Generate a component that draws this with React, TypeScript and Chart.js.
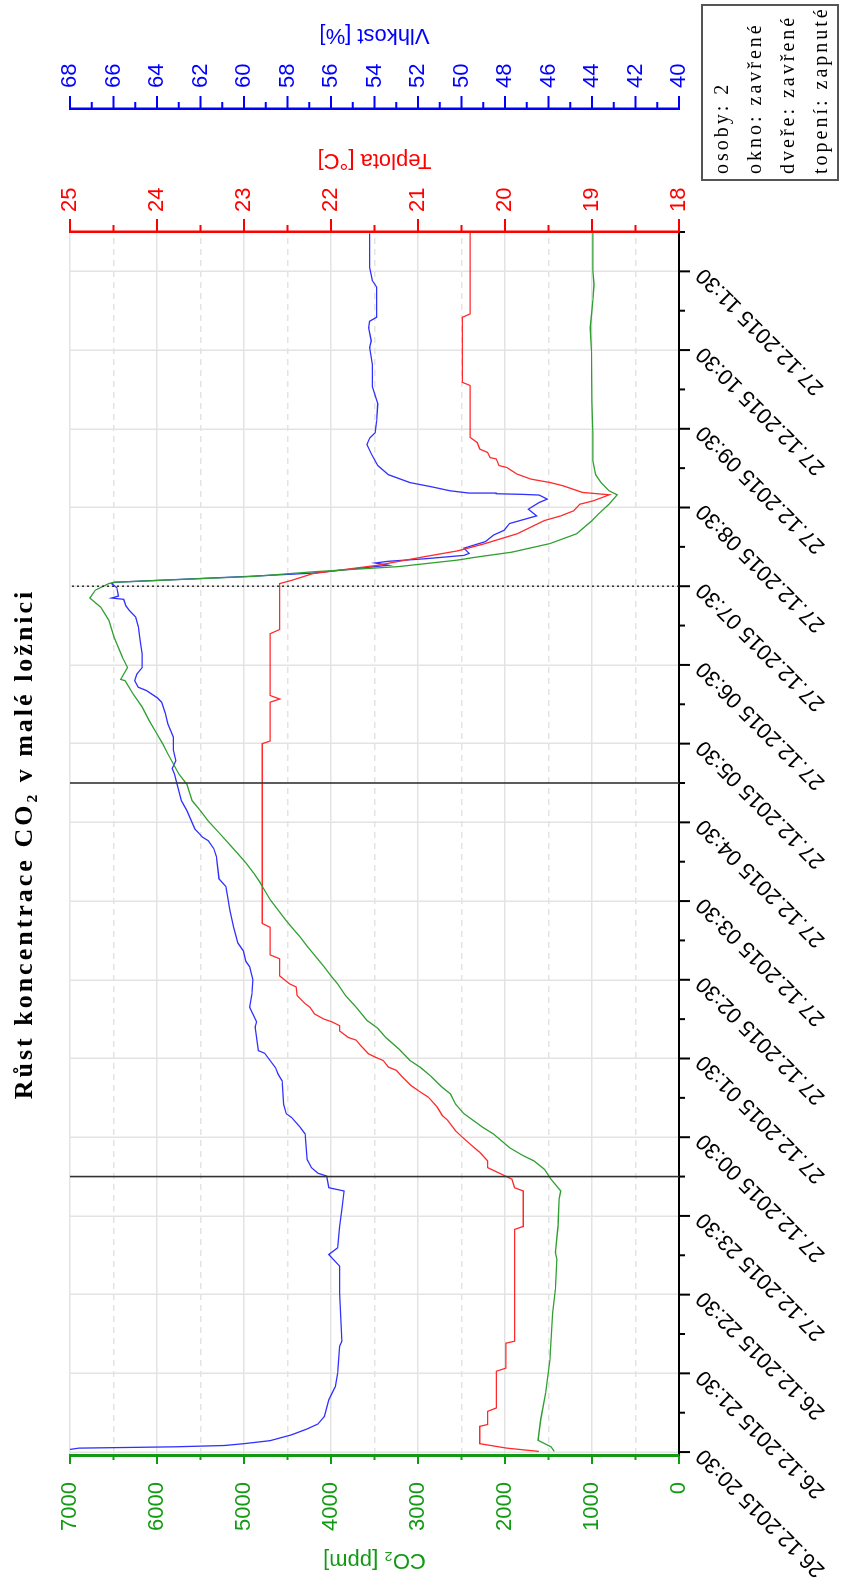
import React, { useEffect, useRef } from 'react';
import { Chart, registerables } from 'chart.js';

Chart.register(...registerables);

// ---------------- data ----------------
const chartTitle = 'Růst koncentrace CO₂ v malé ložnici';

const timeTickLabels = [
  '26.12.2015 20:30', '26.12.2015 21:30', '26.12.2015 22:30', '27.12.2015 23:30',
  '27.12.2015 00:30', '27.12.2015 01:30', '27.12.2015 02:30', '27.12.2015 03:30',
  '27.12.2015 04:30', '27.12.2015 05:30', '27.12.2015 06:30', '27.12.2015 07:30',
  '27.12.2015 08:30', '27.12.2015 09:30', '27.12.2015 10:30', '27.12.2015 11:30',
];

const legendLines = ['osoby: 2', 'okno: zavřené', 'dveře: zavřené', 'topení: zapnuté'];

const co2AxisTitle = 'CO₂ [ppm]';
const tempAxisTitle = 'Teplota [°C]';
const humAxisTitle = 'Vlhkost [%]';

const co2Times = [
  '20:30.5', '20:34', '20:39', '20:55', '21:15', '21:40', '22:16', '22:34', '22:57', '23:02',
  '23:22', '23:43', '23:49', '23:58', '00:05.5', '00:12', '00:16', '00:22', '00:32.5', '00:37.6',
  '00:48', '00:55', '01:03', '01:08', '01:16', '01:23', '01:28.5', '01:37', '01:46', '01:53',
  '01:59', '02:09', '02:18', '02:27', '02:32', '02:40', '02:50', '02:55', '03:03', '03:10',
  '03:15', '03:23', '03:31', '03:38', '03:45', '03:51', '03:59', '04:06', '04:13', '04:22',
  '04:31', '04:39', '04:46.5', '04:59', '05:07', '05:22', '05:30', '05:37', '05:47.6', '05:58',
  '06:08', '06:18', '06:19', '06:28', '06:36', '06:51', '07:04', '07:14', '07:21', '07:27',
  '07:32', '07:33', '07:37.5', '07:41', '07:45', '07:50', '07:52', '07:56', '08:02.5', '08:10',
  '08:20', '08:25', '08:32.5', '08:39.7', '08:42.7', '08:49', '08:55', '09:05.6', '09:26', '09:51',
  '10:30', '10:47', '11:08', '11:20', '11:30.7', '11:59.4',
];
const co2Values = [
  1434, 1471, 1620, 1589, 1533, 1484, 1453, 1422, 1403, 1422,
  1391, 1379, 1360, 1471, 1546, 1669, 1793, 1948, 2133, 2257,
  2473, 2566, 2628, 2721, 2844, 2968, 3092, 3215, 3370, 3462,
  3586, 3710, 3833, 3926, 3988, 4081, 4204, 4266, 4359, 4452,
  4514, 4606, 4699, 4761, 4823, 4885, 4977, 5070, 5163, 5286,
  5410, 5503, 5596, 5657, 5750, 5874, 5936, 5997, 6090, 6171,
  6276, 6368, 6418, 6338, 6399, 6492, 6554, 6647, 6771, 6709,
  6554, 6492, 4885, 4204, 3215, 2535, 2350, 1917, 1484, 1175,
  1000, 927, 804, 711, 804, 897, 958, 989, 989, 1002,
  1008, 1020, 989, 977, 989, 989,
];

const tempTimes = [
  '20:30.5', '20:33', '20:36.4', '20:49.6', '20:51', '21:01', '21:03.6', '21:31.6', '21:34', '21:53',
  '21:54.5', '23:19.7', '23:22', '23:49', '23:51.5', '23:58', '00:06.8', '00:12', '00:18.5', '00:23.6',
  '00:30', '00:35', '00:43', '00:46.5', '00:53', '01:00.5', '01:05.6', '01:09.4', '01:16', '01:21',
  '01:23.4', '01:28.5', '01:31', '01:33.6', '01:40', '01:44', '01:46', '01:51', '01:55', '01:58',
  '02:00', '02:04', '02:09', '02:12', '02:18', '02:24.5', '02:27', '02:33', '02:46', '02:49',
  '03:10', '03:13', '05:30', '05:32', '06:01.6', '06:04', '06:06.7', '06:53.8', '06:57', '07:32',
  '07:34.5', '07:39.6', '07:46', '07:52', '07:57', '08:02.5', '08:10', '08:20', '08:23.6', '08:27.5',
  '08:32.5', '08:35', '08:39.7', '08:41.5', '08:46.5', '08:49', '08:51.6', '08:55.4', '08:58', '09:00.5',
  '09:02', '09:07', '09:08', '09:12', '09:14.5', '09:19.6', '09:23.4', '10:03', '10:05.4', '10:55',
  '10:57.6', '11:59.4',
];
const tempValues = [
  19.61, 19.98, 20.29, 20.29, 20.2, 20.2, 20.1, 20.1, 19.99, 19.99,
  19.89, 19.89, 19.79, 19.79, 19.89, 19.92, 20.2, 20.2, 20.29, 20.38,
  20.49, 20.57, 20.66, 20.72, 20.78, 20.88, 21.0, 21.08, 21.18, 21.25,
  21.34, 21.4, 21.49, 21.57, 21.66, 21.71, 21.8, 21.9, 21.9, 21.99,
  22.08, 22.19, 22.24, 22.3, 22.39, 22.4, 22.48, 22.59, 22.59, 22.7,
  22.7, 22.79, 22.79, 22.7, 22.7, 22.59, 22.7, 22.7, 22.59, 22.59,
  22.45, 22.21, 21.46, 20.97, 20.54, 20.23, 19.86, 19.55, 19.36, 19.21,
  19.14, 18.99, 18.8, 19.11, 19.33, 19.48, 19.7, 19.86, 19.92, 19.98,
  20.07, 20.1, 20.17, 20.2, 20.29, 20.32, 20.4, 20.4, 20.49, 20.49,
  20.4, 20.4,
];

const humTimes = [
  '20:32', '20:33', '20:34', '20:35', '20:36.4', '20:38.7', '20:43.2', '20:47.6', '20:51.4', '20:57.2',
  '21:10', '21:20', '21:30', '21:50.7', '21:54.5', '22:31', '22:51.7', '23:00.6', '23:05.7', '23:22',
  '23:35', '23:49', '23:51.5', '00:00.4', '00:02.5', '00:06.8', '00:13', '00:32.5', '00:38', '00:45',
  '00:48', '00:55', '01:13', '01:18', '01:23', '01:34', '01:36', '01:54', '01:58', '02:09',
  '02:19', '02:30', '02:40', '02:44', '02:52', '02:58', '03:10', '03:23', '03:31', '03:41',
  '03:47', '04:04', '04:10', '04:16', '04:18.5', '04:25', '04:39', '04:46.5', '05:07', '05:11',
  '05:17', '05:25', '05:35', '05:45', '05:53', '06:01.6', '06:05', '06:10.5', '06:13', '06:18',
  '06:23', '06:28', '06:38.5', '06:48.7', '06:59', '07:06.5', '07:11.6', '07:15', '07:20', '07:21',
  '07:22.5', '07:29', '07:32', '07:33', '07:37.5', '07:40', '07:46', '07:47.7', '07:49', '07:51',
  '07:53.5', '07:55', '07:59', '08:04', '08:09', '08:12.6', '08:17.8', '08:23.6', '08:28.7', '08:33.8',
  '08:36.4', '08:39.5', '08:40', '08:40.5', '08:41', '08:42.7', '08:45.8', '08:49', '08:55', '09:02',
  '09:11', '09:18', '09:23', '09:27', '09:36', '09:49', '10:02', '10:19', '10:32', '10:37',
  '10:47', '10:52', '10:55', '11:18', '11:23', '11:33', '11:59',
];
const humValues = [
  68.0, 67.6, 63.2, 60.9, 60.0, 58.8, 57.8, 57.1, 56.6, 56.3,
  56.1, 55.8, 55.7, 55.6, 55.5, 55.6, 55.6, 56.1, 55.7, 55.6,
  55.5, 55.4, 56.1, 56.2, 56.6, 56.9, 57.1, 57.19, 57.44, 57.81,
  58.06, 58.18, 58.25, 58.43, 58.55, 59.05, 59.34, 59.49, 59.42, 59.74,
  59.64, 59.59, 59.74, 59.91, 60.03, 60.28, 60.48, 60.65, 60.73, 60.83,
  61.15, 61.27, 61.39, 61.64, 61.89, 62.26, 62.63, 62.88, 63.2, 63.3,
  63.13, 63.25, 63.25, 63.5, 63.62, 63.79, 63.99, 64.49, 64.86, 65.03,
  64.93, 64.68, 64.68, 64.78, 64.86, 64.98, 65.28, 65.43, 65.53, 66.09,
  65.77, 65.85, 66.09, 65.97, 59.79, 56.82, 53.36, 53.97, 53.36, 51.62,
  49.89, 49.65, 49.89, 48.9, 48.53, 48.04, 47.79, 46.55, 46.93, 46.43,
  46.06, 46.43, 47.17, 48.41, 49.65, 50.51, 51.38, 52.37, 53.36, 53.85,
  54.15, 54.35, 54.22, 53.97, 53.9, 53.85, 54.1, 54.1, 54.22, 54.15,
  54.27, 54.22, 53.9, 53.9, 54.1, 54.22, 54.22,
];

const markerSolidTimes = ['00:00', '05:00'];
const markerDottedTimes = ['07:30'];
const markerSpan = [0, 7000];

const axisStart = '20:27';
const axisEnd = '12:00';

// ---------------- helpers / style ----------------
const W = 1591;
const H = 844;
const GREEN = '#139a13';
const GREEN_LINE = '#2f9f2f';
const RED = '#ff0000';
const RED_LINE = '#ff2a2a';
const BLUE = '#0000ff';
const BLUE_LINE = '#3030ff';
const GRID = '#e3e3e3';
const SANS = '"Liberation Sans", Arial, Helvetica, sans-serif';
const SERIF = '"Liberation Serif", "Times New Roman", serif';

function toMinutes(t: string): number {
  const [h, m] = t.split(':');
  let v = parseInt(h, 10) * 60 + parseFloat(m) - 20 * 60;
  if (v < 0) v += 1440;
  return v;
}

function series(times: string[], values: number[]) {
  return times.map((t, i) => ({ x: toMinutes(t), y: values[i] }));
}

const firstTick = toMinutes('20:30');
const majorTickValues = timeTickLabels.map((_, i) => firstTick + 60 * i);
const timeTickValues: number[] = [];
majorTickValues.forEach((v) => {
  timeTickValues.push(v);
  timeTickValues.push(v + 30);
});
const isMajorTime = (v: number) => majorTickValues.indexOf(v) >= 0;

const tickFont = { family: SANS, size: 22 };
const titleFont = { family: SANS, size: 22 };

const tickMarksPlugin = {
  id: 'tickMarks',
  afterDraw(chart: any) {
    const { ctx, chartArea, scales } = chart;
    ctx.save();
    const xs = scales.x;
    ctx.strokeStyle = '#000';
    ctx.lineWidth = 2;
    ctx.beginPath();
    xs.ticks.forEach((t: any) => {
      const px = xs.getPixelForValue(t.value);
      const len = isMajorTime(t.value) ? 11 : 6;
      ctx.moveTo(px, chartArea.bottom);
      ctx.lineTo(px, chartArea.bottom + len);
    });
    ctx.stroke();
    const ys = scales.y;
    ctx.strokeStyle = GREEN;
    ctx.lineWidth = 2;
    ctx.beginPath();
    ys.ticks.forEach((t: any) => {
      const py = ys.getPixelForValue(t.value);
      const len = t.value % 1000 === 0 ? 8 : 4;
      ctx.moveTo(chartArea.left, py);
      ctx.lineTo(chartArea.left - len, py);
    });
    ctx.stroke();
    const y1 = scales.y1;
    ctx.strokeStyle = RED;
    ctx.beginPath();
    y1.ticks.forEach((t: any) => {
      const py = y1.getPixelForValue(t.value);
      const len = Number.isInteger(t.value) ? 13 : 7;
      ctx.moveTo(y1.left, py);
      ctx.lineTo(y1.left + len, py);
    });
    ctx.stroke();
    const y2 = scales.y2;
    ctx.strokeStyle = BLUE;
    ctx.beginPath();
    y2.ticks.forEach((t: any) => {
      const py = y2.getPixelForValue(t.value);
      const len = t.value % 2 === 0 ? 13 : 7;
      ctx.moveTo(y2.left, py);
      ctx.lineTo(y2.left + len, py);
    });
    ctx.stroke();
    ctx.restore();
  },
};

const overlayPlugin = {
  id: 'overlayText',
  afterDraw(chart: any) {
    const { ctx, chartArea, scales } = chart;
    ctx.save();
    // title
    ctx.font = `bold 26px ${SERIF}`;
    ctx.letterSpacing = '3px';
    ctx.fillStyle = '#000';
    ctx.textAlign = 'center';
    ctx.textBaseline = 'middle';
    ctx.fillText(chartTitle, (chartArea.left + chartArea.right) / 2, 25);
    ctx.letterSpacing = '0px';

    // right axis titles (rotated like the left one)
    const midY = (chartArea.top + chartArea.bottom) / 2;
    ctx.font = `22px ${SANS}`;
    const drawRotated = (text: string, x: number, color: string) => {
      ctx.save();
      ctx.translate(x, midY);
      ctx.rotate(-Math.PI / 2);
      ctx.fillStyle = color;
      ctx.textAlign = 'center';
      ctx.textBaseline = 'middle';
      ctx.fillText(text, 0, 0);
      ctx.restore();
    };
    drawRotated(tempAxisTitle, scales.y1.right - 51, RED);
    drawRotated(humAxisTitle, scales.y2.right - 35, BLUE);

    // info box
    ctx.strokeStyle = '#555';
    ctx.lineWidth = 2;
    ctx.strokeRect(1411, 702, 175, 136);
    ctx.font = `20px ${SERIF}`;
    ctx.letterSpacing = '3px';
    ctx.fillStyle = '#000';
    ctx.textAlign = 'left';
    ctx.textBaseline = 'middle';
    legendLines.forEach((line, i) => {
      ctx.fillText(line, 1417, 723 + i * 32.8);
    });
    ctx.letterSpacing = '0px';
    ctx.restore();
  },
};

export default function App() {
  const canvasRef = useRef<HTMLCanvasElement | null>(null);

  useEffect(() => {
    const canvas = canvasRef.current;
    if (!canvas) return;
    const markerDatasets = [
      ...markerSolidTimes.map((t) => ({
        label: 'marker ' + t,
        data: markerSpan.map((v) => ({ x: toMinutes(t), y: v })),
        yAxisID: 'y',
        borderColor: '#333',
        borderWidth: 1.6,
        pointRadius: 0,
      })),
      ...markerDottedTimes.map((t) => ({
        label: 'marker ' + t,
        data: markerSpan.map((v) => ({ x: toMinutes(t), y: v })),
        yAxisID: 'y',
        borderColor: '#222',
        borderWidth: 1.4,
        borderDash: [2, 3],
        pointRadius: 0,
      })),
    ];
    const chart = new Chart(canvas, {
      type: 'line',
      data: {
        datasets: [
          ...markerDatasets,
          {
            label: 'CO2',
            data: series(co2Times, co2Values),
            yAxisID: 'y',
            borderColor: GREEN_LINE,
            borderWidth: 1.3,
            pointRadius: 0,
          },
          {
            label: 'Teplota',
            data: series(tempTimes, tempValues),
            yAxisID: 'y1',
            borderColor: RED_LINE,
            borderWidth: 1.3,
            pointRadius: 0,
          },
          {
            label: 'Vlhkost',
            data: series(humTimes, humValues),
            yAxisID: 'y2',
            borderColor: BLUE_LINE,
            borderWidth: 1.3,
            pointRadius: 0,
          },
        ] as any,
      },
      options: {
        animation: false,
        responsive: false,
        maintainAspectRatio: false,
        layout: { padding: { top: 70, left: 0, right: 0, bottom: 0 } },
        plugins: {
          legend: { display: false },
          tooltip: { enabled: false },
          title: { display: false },
        },
        elements: { line: { tension: 0 } },
        scales: {
          x: {
            type: 'linear',
            min: toMinutes(axisStart),
            max: toMinutes(axisEnd),
            afterBuildTicks: (s: any) => {
              s.ticks = timeTickValues.map((v) => ({ value: v }));
            },
            afterFit: (s: any) => {
              s.height = 165;
            },
            grid: {
              color: (c: any) => (c.tick && isMajorTime(c.tick.value) ? GRID : 'rgba(0,0,0,0)'),
              lineWidth: 1.5,
              drawTicks: false,
            },
            border: { color: '#000', width: 2 },
            ticks: {
              autoSkip: false,
              minRotation: 45,
              maxRotation: 45,
              padding: 12,
              color: '#000',
              font: tickFont,
              callback: (v: any) => {
                const i = majorTickValues.indexOf(Number(v));
                return i >= 0 ? timeTickLabels[i] : '';
              },
            },
          },
          y: {
            type: 'linear',
            position: 'left',
            min: 0,
            max: 7000,
            afterFit: (s: any) => {
              s.width = 135;
            },
            ticks: {
              stepSize: 500,
              autoSkip: false,
              padding: 26,
              color: GREEN,
              font: tickFont,
              callback: (v: any) => (Number(v) % 1000 === 0 ? String(v) : ''),
            },
            grid: { color: GRID, lineWidth: 1.5, drawTicks: false },
            border: {
              color: GREEN,
              width: 3,
              dash: (c: any) => (c.tick && c.tick.value % 1000 !== 0 ? [6, 5] : []),
            },
            title: {
              display: true,
              text: co2AxisTitle,
              color: GREEN,
              font: titleFont,
              padding: { top: 18, bottom: 0 },
            },
          },
          y1: {
            type: 'linear',
            position: 'right',
            weight: 0,
            min: 18,
            max: 25,
            afterFit: (s: any) => {
              s.width = 123;
            },
            ticks: {
              stepSize: 0.5,
              autoSkip: false,
              padding: 20,
              color: RED,
              font: tickFont,
              callback: (v: any) => (Number.isInteger(Number(v)) ? String(v) : ''),
            },
            grid: { drawOnChartArea: false, drawTicks: false },
            border: { color: RED, width: 2.5 },
          },
          y2: {
            type: 'linear',
            position: 'right',
            weight: 1,
            min: 40,
            max: 68,
            afterFit: (s: any) => {
              s.width = 109;
            },
            ticks: {
              stepSize: 1,
              autoSkip: false,
              padding: 21,
              color: BLUE,
              font: tickFont,
              callback: (v: any) => (Number(v) % 2 === 0 ? String(v) : ''),
            },
            grid: { drawOnChartArea: false, drawTicks: false },
            border: { color: BLUE, width: 2.5 },
          },
        },
      } as any,
      plugins: [tickMarksPlugin, overlayPlugin],
    });
    return () => chart.destroy();
  }, []);

  return (
    <div
      style={{
        position: 'fixed',
        left: 0,
        top: 0,
        width: H,
        height: W,
        overflow: 'hidden',
        background: '#fff',
      }}
    >
      <div
        style={{
          position: 'absolute',
          left: 0,
          top: 0,
          width: W,
          height: H,
          transformOrigin: '0 0',
          transform: `translateY(${W}px) rotate(-90deg)`,
        }}
      >
        <canvas ref={canvasRef} width={W} height={H} style={{ display: 'block', width: W, height: H }} />
      </div>
    </div>
  );
}
